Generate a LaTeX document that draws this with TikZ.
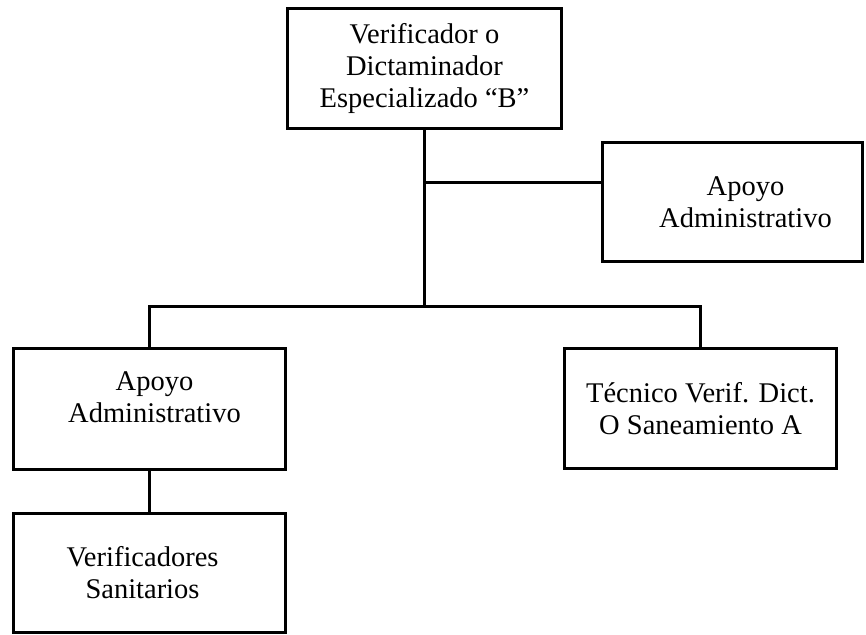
\documentclass[tikz,border=0pt]{standalone}
\usepackage{fontspec}
\setmainfont{Liberation Serif}
\def\grosor{3}
\tikzset{
  puesto/.style = {draw, line width = \grosor pt, align = center,
    inner sep = 0 pt, font = \fontsize{28.5}{32}\selectfont},
  enlace/.style = {line width = \grosor pt}
}

\begin{document}
\begin{tikzpicture} [x = 1 pt, y = - 1 pt]
    \useasboundingbox (0, 0) rectangle (866, 634);

    \node[puesto, minimum width = 274 pt, minimum height = 120 pt]
      (jefe) at (424.5, 68.5)
      {Verificador o\\Dictaminador\\Especializado “B”};
    \node[puesto, minimum width = 260 pt, minimum height = 119 pt]
      (apoyoder) at (732.5, 202)
      {\hspace*{26pt}Apoyo\\\hspace*{26pt}Administrativo};
    \node[puesto, minimum width = 272 pt, minimum height = 121 pt,
      text depth = 24 pt]
      (apoyoizq) at (149.5, 409)
      {\hspace*{10pt}Apoyo\\\hspace*{10pt}Administrativo};
    \node[puesto, minimum width = 272 pt, minimum height = 120 pt]
      (tecnico) at (700.5, 408.5)
      {Técnico Verif. Dict.\\O Saneamiento A};
    \node[puesto, minimum width = 272 pt, minimum height = 119 pt]
      (sanitarios) at (149.5, 573)
      {Verificadores\hspace*{14pt}\\Sanitarios\hspace*{14pt}};

    \coordinate (rama) at (424.5, 182);
    \coordinate (barra) at (424.5, 306);

    \draw[enlace] (jefe.south) -- (barra);
    \draw[enlace] (rama) -- (rama -| apoyoder.west);
    \draw[enlace] (apoyoizq.north) |- (barra) -| (tecnico.north);
    \draw[enlace] (apoyoizq.south) -- (sanitarios.north);
  \end{tikzpicture}
\end{document}
